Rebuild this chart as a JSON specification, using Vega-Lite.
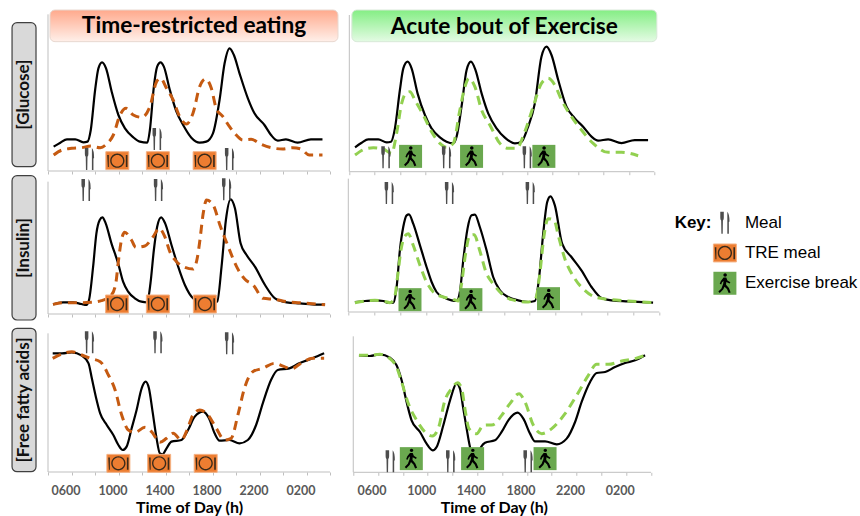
{"$schema":"https://vega.github.io/schema/vega-lite/v6.json","padding":{"left":11,"top":9,"right":0,"bottom":0},"background":"white","spacing":7.3,"config":{"view":{"stroke":null},"font":"Lato"},
"datasets":{
"g_t_b":[{"h":4.48,"y":73},{"h":5.05,"y":85},{"h":5.61,"y":95},{"h":6.32,"y":95},{"h":7.02,"y":86},{"h":7.36,"y":88},{"h":7.64,"y":123},{"h":8.01,"y":243},{"h":8.29,"y":308},{"h":8.6,"y":326},{"h":8.94,"y":308},{"h":9.42,"y":238},{"h":9.99,"y":168},{"h":10.55,"y":128},{"h":11.26,"y":101},{"h":11.82,"y":88},{"h":12.45,"y":85},{"h":12.67,"y":123},{"h":13.01,"y":253},{"h":13.29,"y":313},{"h":13.58,"y":326},{"h":13.86,"y":313},{"h":14.37,"y":243},{"h":14.93,"y":178},{"h":15.5,"y":138},{"h":16.2,"y":100},{"h":16.91,"y":85},{"h":17.47,"y":88},{"h":18.04,"y":113},{"h":18.6,"y":213},{"h":19.03,"y":323},{"h":19.45,"y":368},{"h":19.82,"y":348},{"h":20.3,"y":293},{"h":21.01,"y":218},{"h":21.57,"y":173},{"h":22.42,"y":138},{"h":22.98,"y":108},{"h":23.55,"y":91},{"h":24.25,"y":95},{"h":25.24,"y":85},{"h":26.37,"y":95},{"h":27.36,"y":95}],
"g_t_d":[{"h":4.48,"y":48},{"h":5.19,"y":63},{"h":6.03,"y":68},{"h":6.88,"y":70},{"h":7.64,"y":75},{"h":8.44,"y":70},{"h":9,"y":81},{"h":9.56,"y":108},{"h":10.13,"y":168},{"h":10.64,"y":188},{"h":11.26,"y":168},{"h":11.97,"y":161},{"h":12.67,"y":193},{"h":13.24,"y":268},{"h":13.58,"y":278},{"h":14.09,"y":248},{"h":14.65,"y":213},{"h":15.21,"y":163},{"h":15.78,"y":141},{"h":16.34,"y":173},{"h":16.91,"y":253},{"h":17.42,"y":276},{"h":17.9,"y":248},{"h":18.32,"y":188},{"h":18.89,"y":163},{"h":19.45,"y":133},{"h":20.02,"y":108},{"h":20.58,"y":93},{"h":21.29,"y":95},{"h":22.14,"y":80},{"h":22.98,"y":70},{"h":23.97,"y":66},{"h":24.82,"y":70},{"h":25.53,"y":66},{"h":26.23,"y":48},{"h":27.36,"y":48}],
"g_t_i":[{"h":7.53,"y":36,"icon":"meal"},{"h":13.29,"y":96,"icon":"meal"},{"h":19.45,"y":36,"icon":"meal"},{"h":9.9,"y":31,"icon":"plate"},{"h":13.35,"y":31,"icon":"plate"},{"h":17.33,"y":31,"icon":"plate"}],
"g_e_b":[{"h":4.45,"y":73},{"h":4.97,"y":87},{"h":5.49,"y":97},{"h":6.28,"y":97},{"h":6.94,"y":88},{"h":7.28,"y":90},{"h":7.59,"y":130},{"h":7.98,"y":245},{"h":8.25,"y":310},{"h":8.59,"y":330},{"h":8.9,"y":310},{"h":9.37,"y":235},{"h":9.95,"y":170},{"h":10.47,"y":130},{"h":11.13,"y":103},{"h":11.65,"y":90},{"h":12.18,"y":85},{"h":12.44,"y":105},{"h":12.83,"y":195},{"h":13.23,"y":305},{"h":13.57,"y":330},{"h":13.93,"y":305},{"h":14.41,"y":235},{"h":14.93,"y":175},{"h":15.59,"y":130},{"h":16.24,"y":102},{"h":17.03,"y":85},{"h":17.55,"y":90},{"h":18.02,"y":130},{"h":18.6,"y":205},{"h":19.12,"y":345},{"h":19.52,"y":375},{"h":19.91,"y":350},{"h":20.44,"y":275},{"h":21.09,"y":195},{"h":21.75,"y":160},{"h":22.4,"y":135},{"h":23.06,"y":105},{"h":23.58,"y":93},{"h":24.37,"y":97},{"h":25.42,"y":86},{"h":26.46,"y":95},{"h":27.51,"y":95}],
"g_e_d":[{"h":4.45,"y":50},{"h":5.23,"y":68},{"h":5.89,"y":72},{"h":6.67,"y":68},{"h":7.33,"y":55},{"h":7.72,"y":115},{"h":8.12,"y":205},{"h":8.43,"y":235},{"h":8.77,"y":240},{"h":9.16,"y":215},{"h":9.82,"y":170},{"h":10.47,"y":120},{"h":11.13,"y":85},{"h":11.65,"y":73},{"h":12.18,"y":85},{"h":12.7,"y":185},{"h":13.1,"y":255},{"h":13.41,"y":280},{"h":13.88,"y":255},{"h":14.41,"y":185},{"h":15.06,"y":140},{"h":15.85,"y":85},{"h":16.5,"y":70},{"h":17.16,"y":70},{"h":17.81,"y":120},{"h":18.47,"y":195},{"h":19.12,"y":265},{"h":19.65,"y":280},{"h":20.17,"y":260},{"h":20.7,"y":215},{"h":21.48,"y":165},{"h":22.27,"y":125},{"h":23.19,"y":85},{"h":24.37,"y":58},{"h":25.42,"y":58},{"h":26.73,"y":48}],
"g_e_i":[{"h":6.88,"y":43,"icon":"meal"},{"h":11.65,"y":43,"icon":"meal"},{"h":18,"y":43,"icon":"meal"},{"h":8.82,"y":46,"icon":"walk"},{"h":13.62,"y":46,"icon":"walk"},{"h":19.31,"y":46,"icon":"walk"}],
"i_t_b":[{"h":4.43,"y":29},{"h":5.28,"y":35},{"h":6.13,"y":35},{"h":6.84,"y":30},{"h":7.27,"y":27},{"h":7.49,"y":42},{"h":7.84,"y":142},{"h":8.12,"y":242},{"h":8.4,"y":282},{"h":8.63,"y":290},{"h":8.91,"y":272},{"h":9.4,"y":212},{"h":9.97,"y":152},{"h":10.39,"y":97},{"h":10.82,"y":67},{"h":11.39,"y":47},{"h":11.95,"y":37},{"h":12.44,"y":35},{"h":12.72,"y":92},{"h":13.01,"y":192},{"h":13.29,"y":262},{"h":13.63,"y":290},{"h":13.97,"y":272},{"h":14.51,"y":207},{"h":15.08,"y":142},{"h":15.65,"y":87},{"h":16.36,"y":47},{"h":17.21,"y":35},{"h":17.92,"y":32},{"h":18.4,"y":37},{"h":18.77,"y":142},{"h":19.14,"y":282},{"h":19.54,"y":344},{"h":19.91,"y":317},{"h":20.39,"y":212},{"h":20.9,"y":177},{"h":21.61,"y":142},{"h":22.47,"y":87},{"h":23.32,"y":47},{"h":24.31,"y":35},{"h":25.45,"y":32},{"h":26.87,"y":28},{"h":27.58,"y":28}],
"i_t_d":[{"h":4.43,"y":29},{"h":5.28,"y":34},{"h":6.84,"y":34},{"h":7.69,"y":35},{"h":8.55,"y":40},{"h":9.4,"y":57},{"h":9.77,"y":92},{"h":9.97,"y":152},{"h":10.25,"y":222},{"h":10.53,"y":245},{"h":11.1,"y":222},{"h":11.47,"y":200},{"h":12.24,"y":204},{"h":12.95,"y":232},{"h":13.46,"y":257},{"h":13.94,"y":232},{"h":14.37,"y":187},{"h":14.94,"y":157},{"h":15.65,"y":140},{"h":16.36,"y":135},{"h":16.7,"y":167},{"h":16.93,"y":222},{"h":17.21,"y":302},{"h":17.49,"y":342},{"h":18.06,"y":327},{"h":18.63,"y":267},{"h":19.34,"y":202},{"h":20.05,"y":142},{"h":20.76,"y":104},{"h":21.47,"y":87},{"h":22.32,"y":47},{"h":23.32,"y":44},{"h":24.31,"y":37},{"h":25.45,"y":34},{"h":27.58,"y":28}],
"i_t_i":[{"h":7.24,"y":372,"icon":"meal"},{"h":13.4,"y":372,"icon":"meal"},{"h":19.2,"y":374,"icon":"meal"},{"h":9.88,"y":30,"icon":"plate"},{"h":13.35,"y":30,"icon":"plate"},{"h":17.35,"y":30,"icon":"plate"}],
"i_e_b":[{"h":4.51,"y":30},{"h":5.29,"y":33},{"h":6.06,"y":35},{"h":6.7,"y":33},{"h":7.08,"y":27},{"h":7.47,"y":28},{"h":7.73,"y":75},{"h":7.98,"y":185},{"h":8.24,"y":255},{"h":8.5,"y":290},{"h":8.68,"y":293},{"h":9.01,"y":265},{"h":9.53,"y":200},{"h":10.04,"y":135},{"h":10.43,"y":90},{"h":10.81,"y":60},{"h":11.33,"y":45},{"h":11.97,"y":35},{"h":12.35,"y":33},{"h":12.61,"y":60},{"h":12.87,"y":155},{"h":13.2,"y":250},{"h":13.51,"y":290},{"h":13.77,"y":292},{"h":14.15,"y":255},{"h":14.67,"y":185},{"h":15.18,"y":105},{"h":15.7,"y":65},{"h":16.34,"y":45},{"h":17.11,"y":35},{"h":17.88,"y":30},{"h":18.4,"y":33},{"h":18.7,"y":95},{"h":19.04,"y":235},{"h":19.35,"y":330},{"h":19.6,"y":347},{"h":19.94,"y":320},{"h":20.5,"y":205},{"h":21.22,"y":165},{"h":21.99,"y":125},{"h":22.77,"y":75},{"h":23.54,"y":42},{"h":24.31,"y":35},{"h":25.59,"y":32},{"h":27.52,"y":28}],
"i_e_d":[{"h":4.51,"y":28},{"h":5.29,"y":33},{"h":6.06,"y":35},{"h":6.7,"y":33},{"h":7.21,"y":28},{"h":7.55,"y":40},{"h":7.8,"y":105},{"h":8.06,"y":185},{"h":8.32,"y":225},{"h":8.63,"y":235},{"h":9.01,"y":200},{"h":9.53,"y":140},{"h":10.04,"y":90},{"h":10.56,"y":60},{"h":11.33,"y":45},{"h":11.97,"y":40},{"h":12.48,"y":33},{"h":12.74,"y":85},{"h":13.05,"y":175},{"h":13.38,"y":230},{"h":13.72,"y":232},{"h":14.1,"y":190},{"h":14.67,"y":115},{"h":15.18,"y":85},{"h":15.83,"y":55},{"h":16.6,"y":37},{"h":17.88,"y":30},{"h":18.45,"y":40},{"h":18.78,"y":115},{"h":19.09,"y":225},{"h":19.42,"y":280},{"h":19.89,"y":275},{"h":20.2,"y":230},{"h":20.71,"y":160},{"h":21.48,"y":100},{"h":22.25,"y":65},{"h":23.02,"y":45},{"h":24.05,"y":38},{"h":25.59,"y":33},{"h":27.52,"y":28}],
"i_e_i":[{"h":7.16,"y":357,"icon":"meal"},{"h":11.81,"y":357,"icon":"meal"},{"h":18.04,"y":357,"icon":"meal"},{"h":8.76,"y":37,"icon":"walk"},{"h":13.46,"y":37,"icon":"walk"},{"h":19.45,"y":40,"icon":"walk"}],
"f_t_b":[{"h":4.4,"y":356},{"h":5.19,"y":356},{"h":6.03,"y":359},{"h":6.88,"y":349},{"h":7.45,"y":326},{"h":7.73,"y":281},{"h":8.07,"y":226},{"h":8.44,"y":176},{"h":9,"y":141},{"h":9.56,"y":111},{"h":9.99,"y":81},{"h":10.36,"y":66},{"h":10.69,"y":76},{"h":11.12,"y":131},{"h":11.54,"y":186},{"h":11.97,"y":251},{"h":12.31,"y":271},{"h":12.59,"y":251},{"h":12.9,"y":181},{"h":13.24,"y":101},{"h":13.52,"y":56},{"h":13.75,"y":53},{"h":14.09,"y":71},{"h":14.51,"y":91},{"h":15.36,"y":96},{"h":15.92,"y":126},{"h":16.49,"y":166},{"h":17.19,"y":181},{"h":17.7,"y":161},{"h":18.18,"y":116},{"h":18.6,"y":94},{"h":19.45,"y":96},{"h":20.3,"y":86},{"h":21.01,"y":96},{"h":21.71,"y":141},{"h":22.28,"y":206},{"h":22.98,"y":276},{"h":23.55,"y":306},{"h":24.54,"y":311},{"h":25.38,"y":326},{"h":26.51,"y":341},{"h":27.5,"y":356}],
"f_t_d":[{"h":4.4,"y":341},{"h":5.19,"y":354},{"h":6.03,"y":361},{"h":6.88,"y":351},{"h":7.59,"y":341},{"h":8.44,"y":331},{"h":9.14,"y":291},{"h":9.71,"y":246},{"h":10.27,"y":171},{"h":10.84,"y":126},{"h":11.4,"y":119},{"h":12.25,"y":134},{"h":12.81,"y":121},{"h":13.52,"y":89},{"h":14.09,"y":101},{"h":14.65,"y":116},{"h":15.36,"y":96},{"h":15.78,"y":121},{"h":16.34,"y":171},{"h":16.91,"y":186},{"h":17.62,"y":171},{"h":18.32,"y":131},{"h":19.03,"y":96},{"h":19.59,"y":101},{"h":20.16,"y":171},{"h":20.72,"y":251},{"h":21.43,"y":301},{"h":22.28,"y":311},{"h":23.27,"y":326},{"h":24.11,"y":316},{"h":24.68,"y":309},{"h":25.53,"y":326},{"h":26.51,"y":341},{"h":27.5,"y":341}],
"f_t_i":[{"h":7.53,"y":389,"icon":"meal"},{"h":13.35,"y":389,"icon":"meal"},{"h":19.45,"y":386,"icon":"meal"},{"h":9.99,"y":26,"icon":"plate"},{"h":13.46,"y":26,"icon":"plate"},{"h":17.42,"y":26,"icon":"plate"}],
"f_e_b":[{"h":4.46,"y":351},{"h":5.34,"y":349},{"h":6.15,"y":354},{"h":6.96,"y":344},{"h":7.49,"y":321},{"h":7.9,"y":276},{"h":8.3,"y":211},{"h":8.7,"y":156},{"h":9.38,"y":121},{"h":9.91,"y":86},{"h":10.4,"y":66},{"h":10.72,"y":76},{"h":11.26,"y":141},{"h":11.8,"y":216},{"h":12.33,"y":266},{"h":12.6,"y":251},{"h":12.87,"y":191},{"h":13.14,"y":131},{"h":13.41,"y":76},{"h":13.76,"y":50},{"h":14.03,"y":52},{"h":14.3,"y":76},{"h":14.62,"y":89},{"h":15.42,"y":96},{"h":15.96,"y":121},{"h":16.5,"y":156},{"h":17.25,"y":179},{"h":17.71,"y":161},{"h":18.25,"y":116},{"h":18.65,"y":93},{"h":19.46,"y":93},{"h":20.4,"y":84},{"h":21.2,"y":101},{"h":21.88,"y":151},{"h":22.41,"y":211},{"h":23.09,"y":271},{"h":23.62,"y":298},{"h":24.3,"y":301},{"h":25.1,"y":316},{"h":25.91,"y":328},{"h":26.72,"y":336},{"h":27.52,"y":351}],
"f_e_d":[{"h":4.46,"y":351},{"h":5.34,"y":351},{"h":6.15,"y":354},{"h":6.96,"y":341},{"h":7.49,"y":316},{"h":7.9,"y":271},{"h":8.44,"y":206},{"h":9.11,"y":156},{"h":9.78,"y":121},{"h":10.37,"y":109},{"h":10.85,"y":131},{"h":11.39,"y":216},{"h":11.93,"y":251},{"h":12.41,"y":269},{"h":12.74,"y":251},{"h":13,"y":191},{"h":13.33,"y":131},{"h":13.95,"y":116},{"h":14.48,"y":141},{"h":15.29,"y":143},{"h":15.96,"y":171},{"h":16.63,"y":206},{"h":17.36,"y":236},{"h":17.84,"y":211},{"h":18.52,"y":141},{"h":19.19,"y":116},{"h":20,"y":131},{"h":21.07,"y":176},{"h":22.01,"y":231},{"h":22.95,"y":291},{"h":23.62,"y":324},{"h":24.56,"y":324},{"h":25.64,"y":334},{"h":26.72,"y":341},{"h":27.52,"y":351}],
"f_e_i":[{"h":6.98,"y":33,"icon":"meal"},{"h":11.85,"y":33,"icon":"meal"},{"h":18.09,"y":33,"icon":"meal"},{"h":8.68,"y":41,"icon":"walk"},{"h":13.62,"y":41,"icon":"walk"},{"h":19.46,"y":41,"icon":"walk"}],
"key":[{"col":57.3,"row":1,"icon":"meal"},{"col":57.3,"row":2,"icon":"plate"},{"col":57.3,"row":3,"icon":"walk"}],
"keytext":[{"col":77.3,"row":1,"label":"Meal"},{"col":77.3,"row":2,"label":"TRE meal"},{"col":77.3,"row":3,"label":"Exercise break"}]
},
"hconcat":[
{"vconcat":[
{"width":282,"height":161,"encoding":{"x":{"field":"h","type":"quantitative","scale":{"domain":[4,28],"nice":false,"zero":false},"axis":{"domain":false,"labels":false,"title":null,"grid":false,"values":[4,6,8,10,12,14,16,18,20,22,24,26,28],"tickColor":"#bfbfbf","tickSize":3}},"y":{"field":"y","type":"quantitative","scale":{"domain":[0,483],"nice":false,"zero":false},"axis":null}},
"layer":[
{"data":{"values":[{"h":4,"h2":28,"y":0,"y2":0},{"h":4,"h2":4,"y":0,"y2":470}]},"mark":{"type":"rule","color":"#bfbfbf","strokeWidth":1},"encoding":{"x2":{"field":"h2"},"y2":{"field":"y2"}}},
{"data":{"values":[{"h":0.94,"h2":2.98,"y":13,"y2":445}]},"mark":{"type":"rect","fill":"#d9d9d9","stroke":"#404040","strokeWidth":1.2,"cornerRadius":5},"encoding":{"x2":{"field":"h2"},"y2":{"field":"y2"}}},
{"data":{"values":[{"h":1.96,"y":229,"t":"[Glucose]"}]},"mark":{"type":"text","angle":270,"fontWeight":"bold","fontSize":17,"color":"#111","align":"center","baseline":"middle"},"encoding":{"text":{"field":"t"}}},
{"data":{"values":[{"h":4.17,"h2":28.68,"y":388,"y2":483}]},"mark":{"type":"rect","cornerRadius":5,"stroke":"#e8d8d0","strokeWidth":1,"fill":{"gradient":"linear","x1":0,"y1":0,"x2":0,"y2":1,"stops":[{"offset":0,"color":"#ffa98c"},{"offset":1,"color":"#fff0ea"}]}},"encoding":{"x2":{"field":"h2"},"y2":{"field":"y2"}}},
{"data":{"values":[{"h":16.43,"y":435,"t":"Time-restricted eating"}]},"mark":{"type":"text","fontWeight":"bold","fontSize":22.7,"color":"#000","align":"center","baseline":"middle"},"encoding":{"text":{"field":"t"}}},
{"data":{"name":"g_t_b"},"mark":{"type":"line","color":"#000","strokeWidth":2.2,"interpolate":"monotone"}},
{"data":{"name":"g_t_d"},"mark":{"type":"line","color":"#c55a11","strokeWidth":3,"strokeDash":[9,6],"interpolate":"monotone"}},
{"data":{"name":"g_t_i"},"transform":[{"filter":"datum.icon=='plate'"}],"mark":{"type":"point","shape":"M-1 -.78H1V.78H-1Z","filled":true,"size":529,"color":"#ed7d31","stroke":"#f4b183","strokeWidth":1,"opacity":1}},
{"data":{"name":"g_t_i"},"transform":[{"filter":"datum.icon=='plate'"}],"mark":{"type":"point","shape":"M-.62 0A.62 .62 0 1 1 .62 0A.62 .62 0 1 1 -.62 0ZM-.5 0A.5 .5 0 1 0 .5 0A.5 .5 0 1 0 -.5 0ZM-.88 -.5H-.74V.55H-.82ZM.74 -.5H.88V.55H.74Z","filled":true,"size":529,"color":"#3a2a1a","strokeWidth":0,"opacity":1}},
{"data":{"name":"g_t_i"},"transform":[{"filter":"datum.icon=='meal'"}],"mark":{"type":"point","shape":"M-.42 -1L-.42 -.45Q-.42 -.25 -.34 -.2L-.32 1H-.2L-.18 -.2Q-.1 -.25 -.1 -.45L-.1 -1ZM.22 -1Q.42 -.8 .42 -.1L.36 -.05V1H.22Z","filled":true,"size":484,"color":"#4d4d4d","strokeWidth":0,"opacity":1}}
]},
{"width":282,"height":143,"encoding":{"x":{"field":"h","type":"quantitative","scale":{"domain":[4,28],"nice":false,"zero":false},"axis":{"domain":false,"labels":false,"title":null,"grid":false,"values":[4,6,8,10,12,14,16,18,20,22,24,26,28],"tickColor":"#bfbfbf","tickSize":3}},"y":{"field":"y","type":"quantitative","scale":{"domain":[0,429],"nice":false,"zero":false},"axis":null}},
"layer":[
{"data":{"values":[{"h":4,"h2":28,"y":0,"y2":0},{"h":4,"h2":4,"y":0,"y2":397}]},"mark":{"type":"rule","color":"#bfbfbf","strokeWidth":1},"encoding":{"x2":{"field":"h2"},"y2":{"field":"y2"}}},
{"data":{"values":[{"h":0.94,"h2":2.98,"y":-18,"y2":415}]},"mark":{"type":"rect","fill":"#d9d9d9","stroke":"#404040","strokeWidth":1.2,"cornerRadius":5},"encoding":{"x2":{"field":"h2"},"y2":{"field":"y2"}}},
{"data":{"values":[{"h":1.96,"y":198,"t":"[Insulin]"}]},"mark":{"type":"text","angle":270,"fontWeight":"bold","fontSize":17,"color":"#111","align":"center","baseline":"middle"},"encoding":{"text":{"field":"t"}}},
{"data":{"name":"i_t_b"},"mark":{"type":"line","color":"#000","strokeWidth":2.2,"interpolate":"monotone"}},
{"data":{"name":"i_t_d"},"mark":{"type":"line","color":"#c55a11","strokeWidth":3,"strokeDash":[9,6],"interpolate":"monotone"}},
{"data":{"name":"i_t_i"},"transform":[{"filter":"datum.icon=='plate'"}],"mark":{"type":"point","shape":"M-1 -.78H1V.78H-1Z","filled":true,"size":529,"color":"#ed7d31","stroke":"#f4b183","strokeWidth":1,"opacity":1}},
{"data":{"name":"i_t_i"},"transform":[{"filter":"datum.icon=='plate'"}],"mark":{"type":"point","shape":"M-.62 0A.62 .62 0 1 1 .62 0A.62 .62 0 1 1 -.62 0ZM-.5 0A.5 .5 0 1 0 .5 0A.5 .5 0 1 0 -.5 0ZM-.88 -.5H-.74V.55H-.82ZM.74 -.5H.88V.55H.74Z","filled":true,"size":529,"color":"#3a2a1a","strokeWidth":0,"opacity":1}},
{"data":{"name":"i_t_i"},"transform":[{"filter":"datum.icon=='meal'"}],"mark":{"type":"point","shape":"M-.42 -1L-.42 -.45Q-.42 -.25 -.34 -.2L-.32 1H-.2L-.18 -.2Q-.1 -.25 -.1 -.45L-.1 -1ZM.22 -1Q.42 -.8 .42 -.1L.36 -.05V1H.22Z","filled":true,"size":484,"color":"#4d4d4d","strokeWidth":0,"opacity":1}}
]},
{"width":282,"height":158,"encoding":{"x":{"field":"h","type":"quantitative","scale":{"domain":[4,28],"nice":false,"zero":false},"axis":{"domain":false,"title":"Time of Day (h)","titleFont":"Lato","titleFontWeight":"bold","titleFontSize":16,"titleColor":"#000","titlePadding":3,"labelFont":"Lato","labelFontWeight":"bold","labelFontSize":12.5,"labelColor":"#595959","labelPadding":9,"labelOffset":-6,"labelOverlap":false,"labelFlush":false,"labelExpr":"(datum.value-6)%4==0?((datum.value%24<10?'0':'')+(datum.value%24)+'00'):''","grid":false,"values":[4,6,8,10,12,14,16,18,20,22,24,26,28],"tickColor":"#bfbfbf","tickSize":3}},"y":{"field":"y","type":"quantitative","scale":{"domain":[0,474],"nice":false,"zero":false},"axis":null}},
"layer":[
{"data":{"values":[{"h":4,"h2":28,"y":0,"y2":0},{"h":4,"h2":4,"y":0,"y2":416}]},"mark":{"type":"rule","color":"#bfbfbf","strokeWidth":1},"encoding":{"x2":{"field":"h2"},"y2":{"field":"y2"}}},
{"data":{"values":[{"h":0.94,"h2":2.98,"y":1,"y2":431}]},"mark":{"type":"rect","fill":"#d9d9d9","stroke":"#404040","strokeWidth":1.2,"cornerRadius":5},"encoding":{"x2":{"field":"h2"},"y2":{"field":"y2"}}},
{"data":{"values":[{"h":1.96,"y":216,"t":"[Free fatty acids]"}]},"mark":{"type":"text","angle":270,"fontWeight":"bold","fontSize":17,"color":"#111","align":"center","baseline":"middle"},"encoding":{"text":{"field":"t"}}},
{"data":{"name":"f_t_b"},"mark":{"type":"line","color":"#000","strokeWidth":2.2,"interpolate":"monotone"}},
{"data":{"name":"f_t_d"},"mark":{"type":"line","color":"#c55a11","strokeWidth":3,"strokeDash":[9,6],"interpolate":"monotone"}},
{"data":{"name":"f_t_i"},"transform":[{"filter":"datum.icon=='plate'"}],"mark":{"type":"point","shape":"M-1 -.78H1V.78H-1Z","filled":true,"size":529,"color":"#ed7d31","stroke":"#f4b183","strokeWidth":1,"opacity":1}},
{"data":{"name":"f_t_i"},"transform":[{"filter":"datum.icon=='plate'"}],"mark":{"type":"point","shape":"M-.62 0A.62 .62 0 1 1 .62 0A.62 .62 0 1 1 -.62 0ZM-.5 0A.5 .5 0 1 0 .5 0A.5 .5 0 1 0 -.5 0ZM-.88 -.5H-.74V.55H-.82ZM.74 -.5H.88V.55H.74Z","filled":true,"size":529,"color":"#3a2a1a","strokeWidth":0,"opacity":1}},
{"data":{"name":"f_t_i"},"transform":[{"filter":"datum.icon=='meal'"}],"mark":{"type":"point","shape":"M-.42 -1L-.42 -.45Q-.42 -.25 -.34 -.2L-.32 1H-.2L-.18 -.2Q-.1 -.25 -.1 -.45L-.1 -1ZM.22 -1Q.42 -.8 .42 -.1L.36 -.05V1H.22Z","filled":true,"size":484,"color":"#4d4d4d","strokeWidth":0,"opacity":1}}
]}
],"spacing":0,"bounds":"flush"},
{"vconcat":[
{"width":306,"height":161.7,"encoding":{"x":{"field":"h","type":"quantitative","scale":{"domain":[3.92,28],"nice":false,"zero":false},"axis":{"domain":false,"labels":false,"title":null,"grid":false,"values":[4,6,8,10,12,14,16,18,20,22,24,26,28],"tickColor":"#bfbfbf","tickSize":3}},"y":{"field":"y","type":"quantitative","scale":{"domain":[0,485],"nice":false,"zero":false},"axis":null}},
"layer":[
{"data":{"values":[{"h":4,"h2":28,"y":0,"y2":0},{"h":4,"h2":4,"y":0,"y2":470}]},"mark":{"type":"rule","color":"#bfbfbf","strokeWidth":1},"encoding":{"x2":{"field":"h2"},"y2":{"field":"y2"}}},
{"data":{"values":[{"h":4.2,"h2":28.2,"y":390,"y2":485}]},"mark":{"type":"rect","cornerRadius":5,"stroke":"#d8e8d8","strokeWidth":1,"fill":{"gradient":"linear","x1":0,"y1":0,"x2":0,"y2":1,"stops":[{"offset":0,"color":"#84ee84"},{"offset":1,"color":"#e4fbe4"}]}},"encoding":{"x2":{"field":"h2"},"y2":{"field":"y2"}}},
{"data":{"values":[{"h":16.2,"y":435,"t":"Acute bout of Exercise"}]},"mark":{"type":"text","fontWeight":"bold","fontSize":22.7,"color":"#000","align":"center","baseline":"middle"},"encoding":{"text":{"field":"t"}}},
{"data":{"name":"g_e_b"},"mark":{"type":"line","color":"#000","strokeWidth":2.2,"interpolate":"monotone"}},
{"data":{"name":"g_e_d"},"mark":{"type":"line","color":"#92d050","strokeWidth":3,"strokeDash":[9,6],"interpolate":"monotone"}},
{"data":{"name":"g_e_i"},"transform":[{"filter":"datum.icon=='walk'"}],"mark":{"type":"point","shape":"square","filled":true,"size":529,"color":"#6aa84f","strokeWidth":0,"opacity":1}},
{"data":{"name":"g_e_i"},"transform":[{"filter":"datum.icon=='walk'"}],"mark":{"type":"point","shape":"M.17 -.72A.15 .15 0 1 1 -.13 -.72A.15 .15 0 1 1 .17 -.72ZM-.12 -.5L.12 -.5L.22 -.25L.48 -.08L.4 .03L.12 -.12L.1 .12L.35 .42L.5 .8L.33 .85L.18 .5L-.03 .3L-.15 .55L-.45 .85L-.57 .72L-.3 .45L-.15 .05L-.12 -.2L-.25 -.08L-.32 .1L-.45 .05L-.35 -.2Z","filled":true,"size":529,"color":"#000","strokeWidth":0,"opacity":1}},
{"data":{"name":"g_e_i"},"transform":[{"filter":"datum.icon=='meal'"}],"mark":{"type":"point","shape":"M-.42 -1L-.42 -.45Q-.42 -.25 -.34 -.2L-.32 1H-.2L-.18 -.2Q-.1 -.25 -.1 -.45L-.1 -1ZM.22 -1Q.42 -.8 .42 -.1L.36 -.05V1H.22Z","filled":true,"size":484,"color":"#4d4d4d","strokeWidth":0,"opacity":1}}
]},
{"width":311,"height":140,"encoding":{"x":{"field":"h","type":"quantitative","scale":{"domain":[4,28],"nice":false,"zero":false},"axis":{"domain":false,"labels":false,"title":null,"grid":false,"values":[4,6,8,10,12,14,16,18,20,22,24,26,28],"tickColor":"#bfbfbf","tickSize":3}},"y":{"field":"y","type":"quantitative","scale":{"domain":[0,420],"nice":false,"zero":false},"axis":null}},
"layer":[
{"data":{"values":[{"h":4,"h2":28,"y":0,"y2":0},{"h":4,"h2":4,"y":0,"y2":400}]},"mark":{"type":"rule","color":"#bfbfbf","strokeWidth":1},"encoding":{"x2":{"field":"h2"},"y2":{"field":"y2"}}},
{"data":{"name":"i_e_b"},"mark":{"type":"line","color":"#000","strokeWidth":2.2,"interpolate":"monotone"}},
{"data":{"name":"i_e_d"},"mark":{"type":"line","color":"#92d050","strokeWidth":3,"strokeDash":[9,6],"interpolate":"monotone"}},
{"data":{"name":"i_e_i"},"transform":[{"filter":"datum.icon=='walk'"}],"mark":{"type":"point","shape":"square","filled":true,"size":529,"color":"#6aa84f","strokeWidth":0,"opacity":1}},
{"data":{"name":"i_e_i"},"transform":[{"filter":"datum.icon=='walk'"}],"mark":{"type":"point","shape":"M.17 -.72A.15 .15 0 1 1 -.13 -.72A.15 .15 0 1 1 .17 -.72ZM-.12 -.5L.12 -.5L.22 -.25L.48 -.08L.4 .03L.12 -.12L.1 .12L.35 .42L.5 .8L.33 .85L.18 .5L-.03 .3L-.15 .55L-.45 .85L-.57 .72L-.3 .45L-.15 .05L-.12 -.2L-.25 -.08L-.32 .1L-.45 .05L-.35 -.2Z","filled":true,"size":529,"color":"#000","strokeWidth":0,"opacity":1}},
{"data":{"name":"i_e_i"},"transform":[{"filter":"datum.icon=='meal'"}],"mark":{"type":"point","shape":"M-.42 -1L-.42 -.45Q-.42 -.25 -.34 -.2L-.32 1H-.2L-.18 -.2Q-.1 -.25 -.1 -.45L-.1 -1ZM.22 -1Q.42 -.8 .42 -.1L.36 -.05V1H.22Z","filled":true,"size":484,"color":"#4d4d4d","strokeWidth":0,"opacity":1}}
]},
{"width":302.7,"height":160.3,"encoding":{"x":{"field":"h","type":"quantitative","scale":{"domain":[3.6,28],"nice":false,"zero":false},"axis":{"domain":false,"title":"Time of Day (h)","titleX":145.5,"titleFont":"Lato","titleFontWeight":"bold","titleFontSize":16,"titleColor":"#000","titlePadding":3,"labelFont":"Lato","labelFontWeight":"bold","labelFontSize":12.5,"labelColor":"#595959","labelPadding":9,"labelOffset":-6.5,"labelOverlap":false,"labelFlush":false,"labelExpr":"(datum.value-6)%4==0?((datum.value%24<10?'0':'')+(datum.value%24)+'00'):''","grid":false,"values":[4,6,8,10,12,14,16,18,20,22,24,26,28],"tickColor":"#bfbfbf","tickSize":3}},"y":{"field":"y","type":"quantitative","scale":{"domain":[0,481],"nice":false,"zero":false},"axis":null}},
"layer":[
{"data":{"values":[{"h":4,"h2":28,"y":0,"y2":0},{"h":4,"h2":4,"y":0,"y2":408}]},"mark":{"type":"rule","color":"#bfbfbf","strokeWidth":1},"encoding":{"x2":{"field":"h2"},"y2":{"field":"y2"}}},
{"data":{"name":"f_e_b"},"mark":{"type":"line","color":"#000","strokeWidth":2.2,"interpolate":"monotone"}},
{"data":{"name":"f_e_d"},"mark":{"type":"line","color":"#92d050","strokeWidth":3,"strokeDash":[9,6],"interpolate":"monotone"}},
{"data":{"name":"f_e_i"},"transform":[{"filter":"datum.icon=='walk'"}],"mark":{"type":"point","shape":"square","filled":true,"size":529,"color":"#6aa84f","strokeWidth":0,"opacity":1}},
{"data":{"name":"f_e_i"},"transform":[{"filter":"datum.icon=='walk'"}],"mark":{"type":"point","shape":"M.17 -.72A.15 .15 0 1 1 -.13 -.72A.15 .15 0 1 1 .17 -.72ZM-.12 -.5L.12 -.5L.22 -.25L.48 -.08L.4 .03L.12 -.12L.1 .12L.35 .42L.5 .8L.33 .85L.18 .5L-.03 .3L-.15 .55L-.45 .85L-.57 .72L-.3 .45L-.15 .05L-.12 -.2L-.25 -.08L-.32 .1L-.45 .05L-.35 -.2Z","filled":true,"size":529,"color":"#000","strokeWidth":0,"opacity":1}},
{"data":{"name":"f_e_i"},"transform":[{"filter":"datum.icon=='meal'"}],"mark":{"type":"point","shape":"M-.42 -1L-.42 -.45Q-.42 -.25 -.34 -.2L-.32 1H-.2L-.18 -.2Q-.1 -.25 -.1 -.45L-.1 -1ZM.22 -1Q.42 -.8 .42 -.1L.36 -.05V1H.22Z","filled":true,"size":484,"color":"#4d4d4d","strokeWidth":0,"opacity":1}}
]}
],"spacing":0,"bounds":"flush"},
{"width":190,"height":462,"encoding":{"x":{"field":"col","type":"quantitative","scale":{"domain":[0,190],"nice":false,"zero":false},"axis":null},"y":{"field":"row","type":"quantitative","scale":{"domain":[9.23,-6.02],"nice":false,"zero":false},"axis":null}},
"layer":[
{"data":{"values":[{"col":43.9,"row":1,"t":"Key:"}]},"mark":{"type":"text","font":"Liberation Sans","fontWeight":"bold","fontSize":17,"color":"#000","align":"right","baseline":"middle"},"encoding":{"text":{"field":"t"}}},
{"data":{"name":"keytext"},"mark":{"type":"text","font":"Liberation Sans","fontSize":17,"color":"#000","align":"left","baseline":"middle"},"encoding":{"text":{"field":"label"}}},
{"data":{"name":"key"},"transform":[{"filter":"datum.icon=='plate'"}],"mark":{"type":"point","shape":"M-1 -.78H1V.78H-1Z","filled":true,"size":529,"color":"#ed7d31","stroke":"#f4b183","strokeWidth":1,"opacity":1}},
{"data":{"name":"key"},"transform":[{"filter":"datum.icon=='plate'"}],"mark":{"type":"point","shape":"M-.62 0A.62 .62 0 1 1 .62 0A.62 .62 0 1 1 -.62 0ZM-.5 0A.5 .5 0 1 0 .5 0A.5 .5 0 1 0 -.5 0ZM-.88 -.5H-.74V.55H-.82ZM.74 -.5H.88V.55H.74Z","filled":true,"size":529,"color":"#3a2a1a","strokeWidth":0,"opacity":1}},
{"data":{"name":"key"},"transform":[{"filter":"datum.icon=='walk'"}],"mark":{"type":"point","shape":"square","filled":true,"size":529,"color":"#6aa84f","strokeWidth":0,"opacity":1}},
{"data":{"name":"key"},"transform":[{"filter":"datum.icon=='walk'"}],"mark":{"type":"point","shape":"M.17 -.72A.15 .15 0 1 1 -.13 -.72A.15 .15 0 1 1 .17 -.72ZM-.12 -.5L.12 -.5L.22 -.25L.48 -.08L.4 .03L.12 -.12L.1 .12L.35 .42L.5 .8L.33 .85L.18 .5L-.03 .3L-.15 .55L-.45 .85L-.57 .72L-.3 .45L-.15 .05L-.12 -.2L-.25 -.08L-.32 .1L-.45 .05L-.35 -.2Z","filled":true,"size":529,"color":"#000","strokeWidth":0,"opacity":1}},
{"data":{"name":"key"},"transform":[{"filter":"datum.icon=='meal'"}],"mark":{"type":"point","shape":"M-.42 -1L-.42 -.45Q-.42 -.25 -.34 -.2L-.32 1H-.2L-.18 -.2Q-.1 -.25 -.1 -.45L-.1 -1ZM.22 -1Q.42 -.8 .42 -.1L.36 -.05V1H.22Z","filled":true,"size":484,"color":"#4d4d4d","strokeWidth":0,"opacity":1}}
]}
]}
